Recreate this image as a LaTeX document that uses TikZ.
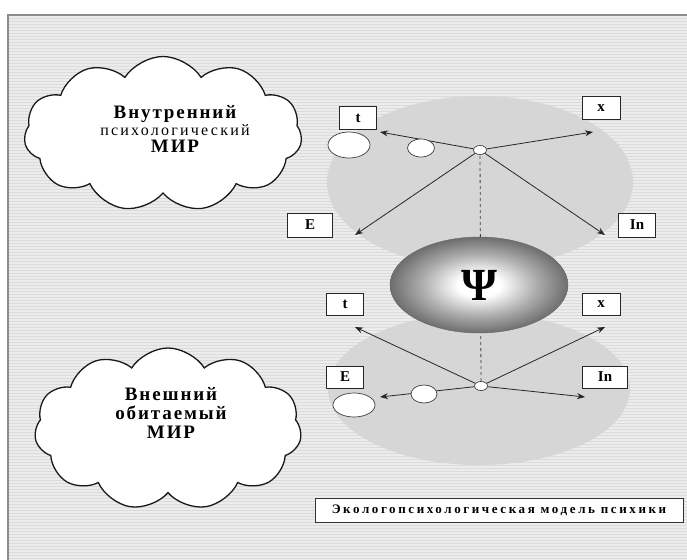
\documentclass[tikz,border=0pt]{standalone}
\usepackage{fontspec}
\setmainfont{Liberation Serif}
\newfontfamily\cloudfont[LetterSpace=10]{Liberation Serif}
\newfontfamily\thinfont[LetterSpace=14]{Liberation Serif}
\newfontfamily\captionfont[LetterSpace=20]{Liberation Serif}
\usetikzlibrary{shapes.symbols}
\usetikzlibrary{shapes.geometric}
\usetikzlibrary{arrows.meta}
\usetikzlibrary{positioning}
\definecolor{cbackgr}{rgb}{0.925, 0.925, 0.925}
\definecolor{cstripe}{rgb}{0.86, 0.86, 0.86}
\definecolor{cworld}{rgb}{0.84, 0.84, 0.84}
\definecolor{cframe}{rgb}{0.55, 0.55, 0.55}
\pgfdeclareradialshading{psishade}{\pgfpoint{0bp}{0bp}}{%
  color(0bp)=(white); color(6bp)=(white); color(16bp)=(black!32);
  color(25bp)=(black!57); color(50bp)=(black!57)}

\begin{document}
\begin{tikzpicture}[x=1pt, y=-1pt,
  axisbox/.style={draw=black!85, fill=white, line width=1pt, minimum width=37pt,
    minimum height=22pt, inner sep=2pt, font=\fontsize{15}{15}\selectfont\bfseries},
  axisarrow/.style={-{Stealth[length=8pt, width=6pt]}, black!85, line width=0.8pt},
  bubble/.style={ellipse, draw=black!75, fill=white, line width=0.7pt, inner sep=0pt},
  worldcloud/.style={cloud, cloud puffs=11, cloud puff arc=115, cloud ignores aspect,
    draw=black!90, fill=white, line width=1.3pt},
  cloudtext/.style={align=center, font=\cloudfont\fontsize{19}{17}\selectfont\bfseries}]
  \useasboundingbox (0,0) rectangle (687,559);
  \clip (0,0) rectangle (687,559);

  % striped sheet
  \fill [cbackgr] (8,15) rectangle (700,570);
  \foreach \yy in {18,21,...,559}
    \draw [cstripe, line width=0.7pt] (9,\yy) -- (687,\yy);
  \draw [cframe, line width=2pt] (8,15) rectangle (700,570);

  % the two worlds
  \fill [cworld] (480,182) ellipse [x radius=153, y radius=86];
  \fill [cworld] (479,389) ellipse [x radius=151, y radius=76];

  \coordinate (upc) at (480,150);
  \coordinate (dnc) at (481,386);
  \draw [dashed, black!75, line width=0.8pt] (upc) -- (dnc);

  % psyche
  \node [ellipse, minimum width=178pt, minimum height=96pt, shading=psishade,
    draw=black!60, line width=0.4pt] (psi) at (479,285)
    {\fontsize{46}{46}\selectfont\bfseries Ψ};

  % clouds
  \node [worldcloud, minimum width=278pt, minimum height=155pt] (incloud) at (163,134) {};
  \node [cloudtext] (intext) at (175,129)
    {Внутренний\\{\thinfont\fontsize{16}{17}\selectfont\mdseries психологический}\\МИР};
  \node [worldcloud, minimum width=267pt, minimum height=162pt] (excloud) at (168,429) {};
  \node [cloudtext, font=\cloudfont\fontsize{19}{19}\selectfont\bfseries] (extext) at (171,413)
    {Внешний\\обитаемый\\МИР};

  % upper system
  \node [bubble, minimum width=13pt, minimum height=9pt] (upo) at (upc) {};
  \coordinate (ut) at (380,132);
  \coordinate (ux) at (593,132);
  \coordinate (ue) at (355,235);
  \coordinate (uin) at (605,235);
  \foreach \tip in {ut, ux, ue, uin}
    \draw [axisarrow] (upo) -- (\tip);
  \node [bubble, minimum width=27pt, minimum height=18pt] (usmall) at (421,148) {};
  \node [bubble, minimum width=42pt, minimum height=26pt] (ularge) at (349,145) {};
  \node [axisbox] (utbox) at (358,118) {t};
  \node [axisbox, minimum width=38pt, minimum height=23pt] (uxbox) at (601,108) {x};
  \node [axisbox, minimum width=45pt, minimum height=24pt] (uebox) at (310,225) {E};
  \node [axisbox, minimum height=24pt] (uinbox) at (637,225) {In};

  % lower system
  \node [bubble, minimum width=13pt, minimum height=9pt] (dno) at (dnc) {};
  \coordinate (lt) at (355,327);
  \coordinate (lx) at (605,327);
  \coordinate (le) at (380,397);
  \coordinate (lin) at (585,397);
  \foreach \tip in {lt, lx, le, lin}
    \draw [axisarrow] (dno) -- (\tip);
  \node [bubble, minimum width=26pt, minimum height=18pt] (lsmall) at (424,394) {};
  \node [bubble, minimum width=42pt, minimum height=24pt] (llarge) at (354,405) {};
  \node [axisbox] (ltbox) at (345,304) {t};
  \node [axisbox, minimum width=38pt] (lxbox) at (601,304) {x};
  \node [axisbox] (lebox) at (345,377) {E};
  \node [axisbox, minimum width=45pt] (linbox) at (605,377) {In};

  % caption
  \node [draw=black!80, fill=white, line width=1pt, minimum width=368pt, minimum height=24pt,
    font=\captionfont\fontsize{13}{13}\selectfont\bfseries] (caption) at (499,510)
    {Экологопсихологическая модель психики};
\end{tikzpicture}
\end{document}
